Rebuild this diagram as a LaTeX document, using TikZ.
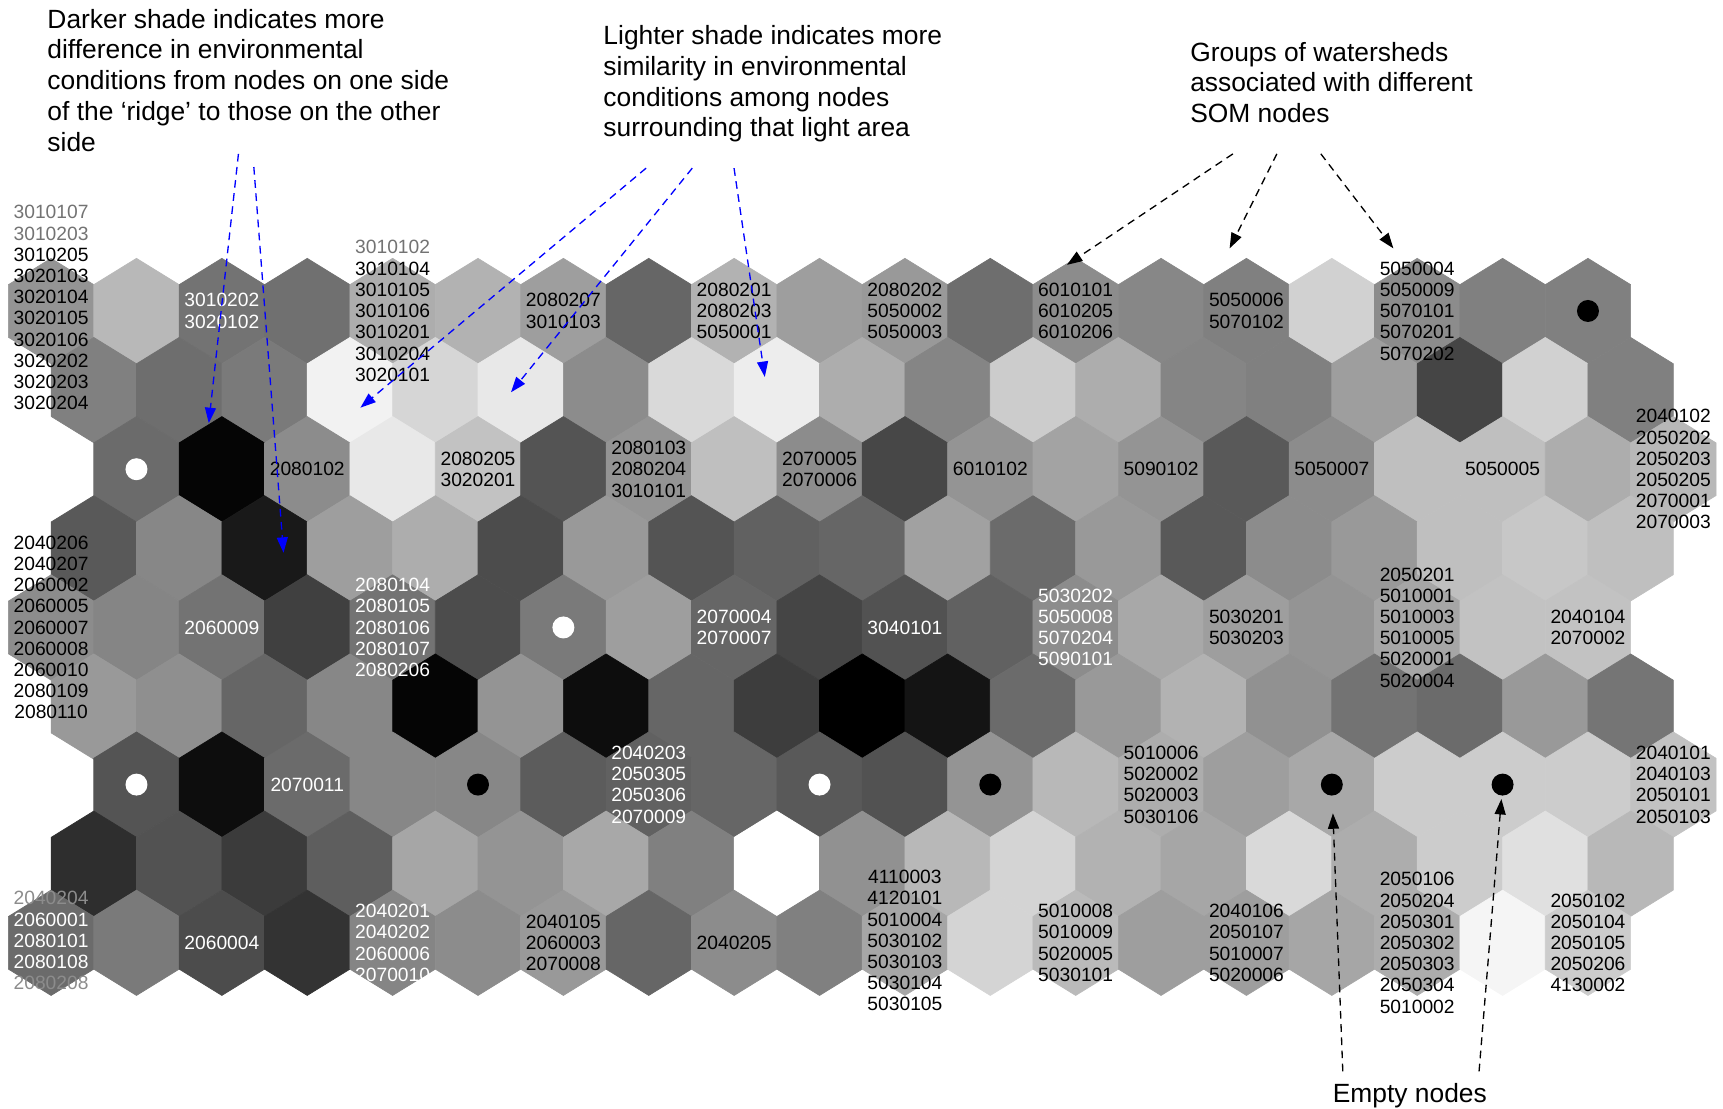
\documentclass[tikz,border=0pt]{standalone}
\usepackage{fontspec}
\setmainfont{Liberation Sans}
\usetikzlibrary{arrows.meta}

% one cell of the U-matrix: x, y, lightness in percent
\newcommand{\somhex}[3]{%
  \filldraw[draw=white!#3!black, fill=white!#3!black, line width=0.6pt]
    (#1,#2) +(0,-47.9) -- +(38.85,-23.95) -- +(38.85,23.95) -- +(0,47.9)
    -- +(-38.85,23.95) -- +(-38.85,-23.95) -- cycle;}

\tikzset{
  lab/.style={font=\fontsize{17.5}{19.3}\selectfont, align=center, inner sep=0pt, text=black},
  labw/.style={lab, text=white},
  note/.style={font=\fontsize{24}{28}\selectfont, align=left, inner sep=0pt, anchor=north west},
  bluearr/.style={blue, line width=1.2pt, dash pattern=on 7pt off 5pt,
    -{Triangle[length=14pt,width=10pt]}},
  blackarr/.style={bluearr, black},
  emptyb/.style={circle, fill=black, minimum size=20pt, inner sep=0pt},
  emptyw/.style={emptyb, fill=white},
}

\begin{document}
\begin{tikzpicture}[x=1pt, y=-1pt]
  \useasboundingbox (0,0) rectangle (1568,1009);

  % U-matrix, one row of cells per line
  \foreach \yy/\xo/\vals in {
    283/46.5/{58,72,45,44,68,70,62,40,70,62,60,43,55,53,50,82,55,50,50},
    355/85.35/{50,43,48,95,84,91,55,85,93,68,52,80,68,52,50,62,27,82,50},
    427/124.2/{42,2,55,91,76,33,58,75,55,28,58,64,58,35,55,75,75,68,72},
    499/85.35/{35,53,10,62,68,30,60,33,38,40,63,42,60,35,55,60,75,78,75},
    571/46.5/{55,52,45,25,45,30,48,62,40,27,32,38,55,66,62,58,65,76,76},
    643/85.35/{60,56,40,53,2,58,5,40,24,0,8,42,60,70,57,45,42,60,46},
    714/124.2/{33,5,42,53,53,36,38,40,35,32,58,72,68,62,66,80,80,80,76},
    786/85.35/{18,32,23,37,65,58,66,50,100,57,72,83,70,65,85,68,80,88,72},
    858/46.5/{42,48,30,20,52,55,60,40,55,50,65,83,73,62,62,65,68,96,80}}{
    \foreach \v [count=\i from 0] in \vals {
      \pgfmathsetmacro{\hx}{\xo+77.7*\i}
      \somhex{\hx}{\yy}{\v}
    }
  }

  % empty nodes
  \node[emptyb] (e0) at (1445.1,283) {};
  \node[emptyw] (e1) at (124.2,427) {};
  \node[emptyw] (e2) at (512.7,571) {};
  \node[emptyw] (e3) at (124.2,714) {};
  \node[emptyb] (e4) at (435,714) {};
  \node[emptyw] (e5) at (745.8,714) {};
  \node[emptyb] (e6) at (901.2,714) {};
  \node[emptyb] (e7) at (1212,714) {};
  \node[emptyb] (e8) at (1367.4,714) {};

  % watershed labels, row 1
  \node[lab] (w00) at (46.5,280) {\textcolor{black!55}{3010107}\\\textcolor{black!55}{3010203}\\3010205\\3020103\\3020104\\3020105\\3020106\\3020202\\3020203\\3020204};
  \node[labw] (w01) at (201.9,283) {3010202\\3020102};
  \node[lab] (w02) at (357.3,283) {\textcolor{black!55}{3010102}\\3010104\\3010105\\3010106\\3010201\\3010204\\3020101};
  \node[lab] (w03) at (512.7,283) {2080207\\3010103};
  \node[lab] (w04) at (668.1,283) {2080201\\2080203\\5050001};
  \node[lab] (w05) at (823.5,283) {2080202\\5050002\\5050003};
  \node[lab] (w06) at (978.9,283) {6010101\\6010205\\6010206};
  \node[lab] (w07) at (1134.3,283) {5050006\\5070102};
  \node[lab] (w08) at (1289.7,283) {5050004\\5050009\\5070101\\5070201\\5070202};

  % row 2
  \node[lab] (w11) at (279.6,427) {2080102};
  \node[lab] (w12) at (435,427) {2080205\\3020201};
  \node[lab] (w13) at (590.4,427) {2080103\\2080204\\3010101};
  \node[lab] (w14) at (745.8,427) {2070005\\2070006};
  \node[lab] (w15) at (901.2,427) {6010102};
  \node[lab] (w16) at (1056.6,427) {5090102};
  \node[lab] (w17) at (1212,427) {5050007};
  \node[lab] (w18) at (1367.4,427) {5050005};
  \node[lab] (w19) at (1522.8,427) {2040102\\2050202\\2050203\\2050205\\2070001\\2070003};

  % row 3
  \node[lab] (w20) at (46.5,571) {2040206\\2040207\\2060002\\2060005\\2060007\\2060008\\2060010\\2080109\\2080110};
  \node[labw] (w21) at (201.9,571) {2060009};
  \node[labw] (w22) at (357.3,571) {2080104\\2080105\\2080106\\2080107\\2080206};
  \node[labw] (w24) at (668.1,571) {2070004\\2070007};
  \node[labw] (w25) at (823.5,571) {3040101};
  \node[labw] (w26) at (978.9,571) {5030202\\5050008\\5070204\\5090101};
  \node[lab] (w27) at (1134.3,571) {5030201\\5030203};
  \node[lab] (w28) at (1289.7,571) {2050201\\5010001\\5010003\\5010005\\5020001\\5020004};
  \node[lab] (w29) at (1445.1,571) {2040104\\2070002};

  % row 4
  \node[labw] (w31) at (279.6,714) {2070011};
  \node[labw] (w33) at (590.4,714) {2040203\\2050305\\2050306\\2070009};
  \node[lab] (w36) at (1056.6,714) {5010006\\5020002\\5020003\\5030106};
  \node[lab] (w39) at (1522.8,714) {2040101\\2040103\\2050101\\2050103};

  % row 5
  \node[labw] (w40) at (46.5,856) {\textcolor{black!45}{2040204}\\2060001\\2080101\\2080108\\\textcolor{black!45}{2080208}};
  \node[labw] (w41) at (201.9,858) {2060004};
  \node[labw] (w42) at (357.3,858) {2040201\\2040202\\2060006\\2070010};
  \node[lab] (w43) at (512.7,858) {2040105\\2060003\\2070008};
  \node[lab] (w44) at (668.1,858) {2040205};
  \node[lab] (w45) at (823.5,856) {4110003\\4120101\\5010004\\5030102\\5030103\\5030104\\5030105};
  \node[lab] (w46) at (978.9,858) {5010008\\5010009\\5020005\\5030101};
  \node[lab] (w47) at (1134.3,858) {2040106\\2050107\\5010007\\5020006};
  \node[lab] (w48) at (1289.7,858) {2050106\\2050204\\2050301\\2050302\\2050303\\2050304\\5010002};
  \node[lab] (w49) at (1445.1,858) {2050102\\2050104\\2050105\\2050206\\4130002};

  % notes
  \node[note] (darknote) at (43,8) {Darker shade indicates more\\difference in environmental\\conditions from nodes on one side\\of the ‘ridge’ to those on the other\\side};
  \node[note] (lightnote) at (549,23) {Lighter shade indicates more\\similarity in environmental\\conditions among nodes\\surrounding that light area};
  \node[note] (groupnote) at (1083,38) {Groups of watersheds\\associated with different\\SOM nodes};
  \node[font=\fontsize{24}{28}\selectfont, inner sep=0pt, anchor=base] (emptynote) at (1283,1003) {Empty nodes};

  % arrow ends
  \coordinate (d1) at (217,140);  \coordinate (d1t) at (190,385);
  \coordinate (d2) at (231,152);  \coordinate (d2t) at (258,503);
  \coordinate (l1) at (588,153);  \coordinate (l1t) at (328,371);
  \coordinate (l2) at (630,153);  \coordinate (l2t) at (465,357);
  \coordinate (l3) at (668,153);  \coordinate (l3t) at (696,343);
  \coordinate (g1) at (1122,140); \coordinate (g1t) at (971,241);
  \coordinate (g2) at (1162,140); \coordinate (g2t) at (1119,226);
  \coordinate (g3) at (1202,140); \coordinate (g3t) at (1268,226);
  \coordinate (m1) at (1222,975);
  \coordinate (m2) at (1346,975);

  \draw[bluearr] (d1) -- (d1t);
  \draw[bluearr] (d2) -- (d2t);
  \draw[bluearr] (l1) -- (l1t);
  \draw[bluearr] (l2) -- (l2t);
  \draw[bluearr] (l3) -- (l3t);
  \draw[blackarr] (g1) -- (g1t);
  \draw[blackarr] (g2) -- (g2t);
  \draw[blackarr] (g3) -- (g3t);
  \draw[blackarr, shorten >=16pt] (m1) -- (e7);
  \draw[blackarr, shorten >=3pt] (m2) -- (e8);
\end{tikzpicture}
\end{document}
